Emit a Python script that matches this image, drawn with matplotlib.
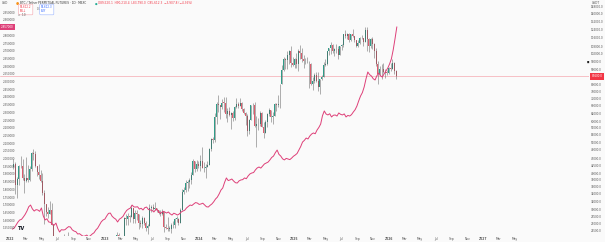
import matplotlib
matplotlib.use("Agg")
import matplotlib.pyplot as plt
import matplotlib.dates as mdates
import matplotlib.transforms as mtransforms
from matplotlib.ticker import NullLocator, NullFormatter
import numpy as np
import pandas as pd

# BTC / USDT perpetual, weekly candles in thousands, weeks starting 2022-01-10
btc_first_open = 41.9
btc_close = [
    43.1, 36.3, 38.2, 42.4, 42.2, 38.4, 37.7, 38.4, 37.8, 41.3, 46.8, 46.4, 42.2, 40.4, 39.4, 37.6, 34.3,
    31.3, 29.4, 29.0, 29.9, 26.6, 20.6, 21.0, 19.3, 20.8, 20.8, 22.6, 23.3, 23.2, 24.3, 21.5, 20.0, 19.8,
    21.8, 19.4, 18.8, 19.3, 19.4, 19.2, 19.5, 20.8, 21.3, 16.3, 16.7, 16.5, 17.1, 17.1, 16.8, 16.8, 16.6,
    17.1, 20.9, 22.7, 23.7, 23.3, 21.8, 24.6, 23.6, 22.0, 22.1, 28.0, 27.9, 28.5, 28.3, 30.3, 27.8, 29.2,
    28.9, 26.9, 26.8, 28.0, 27.1, 25.9, 26.3, 30.5, 30.6, 30.2, 30.3, 29.8, 29.3, 29.0, 29.4, 26.1, 26.0,
    25.8, 25.8, 26.5, 26.5, 27.9, 27.9, 26.9, 30.0, 34.5, 35.0, 37.1, 37.4, 37.8, 39.5, 43.8, 41.4, 43.0, 42.1,
    43.9, 41.7, 41.6, 42.0, 42.6, 48.3, 52.1, 51.7, 62.0, 68.9, 68.4, 67.2, 69.6, 69.4, 63.4, 64.9, 63.1,
    64.0, 61.5, 67.0, 69.0, 67.5, 69.6, 66.2, 64.2, 62.7, 55.8, 60.8, 68.2, 68.2, 58.1, 58.7, 59.0, 64.2,
    57.3, 54.8, 59.9, 63.6, 65.6, 62.1, 62.8, 69.0, 68.0, 68.7, 80.4, 89.9, 98.0, 97.2, 101.1, 104.5, 95.2,
    93.7, 98.3,
    94.5, 104.6, 102.6, 97.7, 96.5, 96.1, 96.3, 94.2, 80.7, 82.6, 86.1, 82.4, 78.4, 83.8, 85.2, 93.7, 94.3,
    104.0, 106.5, 109.0, 104.6, 105.7, 105.6, 100.9, 108.4, 109.2, 119.1, 117.3, 119.4, 114.2, 119.3, 117.5,
    113.5, 108.2, 111.1, 115.3, 115.3, 112.2, 123.5, 115.1, 108.6, 114.5, 110.5, 104.7, 94.0, 86.8, 90.4,
    90.4, 88.2, 88.1, 87.8, 91.5,
    90.5, 95.0, 89.5, 85.6,
]
btc_high = [
    44.5, 43.5, 38.9, 42.6, 45.8, 44.5, 39.8, 45.4, 42.6, 42.3, 47.1, 48.2, 47.4, 41.5, 42.9, 40.8, 40.0,
    35.0, 31.3, 30.6, 32.2, 31.5, 26.8, 21.8, 21.5, 22.5, 21.6, 24.3, 24.7, 23.6, 25.2, 24.4, 21.8, 20.5,
    22.5, 22.7, 19.7, 20.3, 20.5, 19.9, 19.7, 21.1, 21.5, 21.4, 17.1, 16.8, 17.4, 17.4, 18.4, 16.9, 16.9,
    17.3, 21.3, 23.2, 23.9, 24.2, 23.3, 25.2, 25.0, 23.9, 22.6, 28.4, 28.9, 29.2, 28.7, 31.0, 30.5, 30.0,
    29.8, 29.0, 27.6, 28.5, 28.4, 27.4, 26.8, 31.4, 31.0, 31.4, 31.8, 30.4, 30.0, 29.9, 30.2, 29.7, 26.8,
    28.2, 26.4, 27.0, 27.5, 28.0, 28.6, 28.0, 30.4, 35.2, 35.9, 38.0, 37.9, 38.4, 40.2, 44.7, 43.4, 44.4, 43.8,
    45.9, 49.0, 43.6, 42.8, 43.8, 48.6, 52.8, 52.9, 64.0, 70.0, 73.8, 68.2, 71.6, 72.6, 72.8, 66.8, 67.2,
    64.7, 65.0, 67.7, 71.9, 70.0, 71.9, 70.0, 66.9, 64.5, 63.8, 61.3, 68.4, 69.4, 70.0, 62.7, 61.8, 65.0,
    64.5, 59.8, 60.6, 64.1, 66.5, 65.6, 64.5, 69.4, 69.5, 73.6, 80.5, 93.4, 99.6, 98.8, 104.0, 105.3, 108.3,
    99.9, 98.9,
    102.7, 106.2, 109.6, 106.5, 101.5, 98.8, 99.5, 96.5, 95.0, 85.3, 87.5, 88.8, 88.5, 84.0, 86.5, 95.8, 97.9,
    104.3, 106.7, 111.9, 110.4, 106.8, 110.4, 108.9, 108.6, 110.6, 119.5, 123.2, 120.2, 119.8, 119.4, 124.5,
    117.6, 113.6, 113.4, 116.7, 117.9, 115.4, 125.7, 126.2, 115.9, 115.5, 116.4, 111.2, 107.0, 96.6, 93.1,
    94.1, 94.6, 90.4, 90.0, 91.7,
    94.8, 97.9, 95.5, 90.2,
]
btc_low = [
    41.3, 34.0, 32.9, 36.3, 41.7, 38.0, 34.3, 37.2, 37.2, 37.6, 40.6, 44.2, 41.9, 39.2, 38.2, 37.2, 33.7,
    26.7, 28.6, 28.0, 29.2, 26.5, 17.6, 19.8, 18.8, 19.0, 18.9, 20.7, 20.8, 22.4, 22.7, 20.8, 19.6, 19.5,
    18.6, 19.3, 18.2, 18.5, 19.0, 18.2, 18.9, 19.2, 20.1, 15.6, 16.3, 15.4, 16.0, 16.9, 16.5, 16.3, 16.3,
    16.6, 17.1, 20.4, 22.3, 22.6, 21.4, 21.5, 22.8, 21.9, 19.6, 21.9, 26.6, 26.5, 27.2, 28.3, 27.1, 26.9,
    27.7, 25.8, 26.1, 25.9, 26.6, 25.4, 24.8, 26.3, 29.5, 29.8, 30.0, 29.5, 28.9, 28.6, 28.7, 25.2, 25.8,
    25.4, 25.4, 24.9, 26.0, 26.0, 27.2, 26.5, 26.9, 29.9, 33.9, 34.5, 34.8, 35.6, 36.7, 39.5, 40.2, 40.5, 41.5,
    40.7, 41.5, 40.3, 38.5, 41.9, 42.5, 47.7, 50.6, 50.9, 59.0, 64.5, 61.0, 66.3, 64.5, 61.5, 59.7, 62.4,
    56.5, 60.2, 60.7, 66.5, 66.6, 67.6, 65.0, 63.4, 58.5, 53.5, 54.3, 60.7, 63.5, 57.2, 49.0, 56.1, 57.8,
    57.2, 52.6, 54.7, 57.6, 62.7, 59.8, 58.9, 62.4, 65.1, 67.4, 66.8, 80.2, 89.4, 90.8, 90.5, 94.2, 92.2,
    92.5, 91.5,
    91.2, 89.3, 98.2, 96.0, 91.2, 94.1, 94.9, 78.2, 80.0, 76.6, 81.2, 81.6, 76.2, 74.5, 83.0, 85.1, 92.8,
    93.4, 101.4, 102.1, 103.1, 100.4, 102.7, 98.2, 100.8, 105.1, 107.5, 115.7, 114.7, 112.0, 112.6, 116.9,
    111.7, 107.3, 107.3, 110.6, 114.4, 108.6, 111.6, 104.0, 103.5, 106.8, 106.3, 98.9, 93.0, 80.6, 86.1,
    83.8, 87.6, 84.4, 86.6, 86.9,
    89.3, 91.0, 87.3, 83.8,
]

# overlay line (left scale), one value per week from 2022-01-09
line_values = [
    1.545, 1.552, 1.571, 1.590, 1.604, 1.608, 1.623, 1.640, 1.662, 1.690,
    1.701, 1.676, 1.662, 1.671, 1.669, 1.660, 1.682, 1.631, 1.604, 1.612,
    1.591, 1.589, 1.578, 1.570, 1.584, 1.549, 1.526, 1.541, 1.539, 1.541,
    1.552, 1.561, 1.558, 1.540, 1.532, 1.528, 1.513, 1.515, 1.506, 1.498,
    1.500, 1.506, 1.494, 1.502, 1.513, 1.521, 1.539, 1.551, 1.571, 1.592,
    1.604, 1.610, 1.630, 1.647, 1.649, 1.628, 1.617, 1.609, 1.591, 1.609,
    1.617, 1.628, 1.649, 1.666, 1.675, 1.681, 1.701, 1.689, 1.688, 1.690,
    1.675, 1.680, 1.669, 1.684, 1.688, 1.672, 1.669, 1.667, 1.656, 1.671,
    1.669, 1.652, 1.649, 1.660, 1.656, 1.649, 1.656, 1.644, 1.636, 1.648,
    1.643, 1.636, 1.643, 1.655, 1.662, 1.667, 1.682, 1.692, 1.701, 1.698,
    1.708, 1.717, 1.714, 1.705, 1.708, 1.713, 1.701, 1.690, 1.688, 1.699,
    1.708, 1.722, 1.740, 1.752, 1.773, 1.798, 1.812, 1.848, 1.877, 1.860,
    1.864, 1.870, 1.857, 1.846, 1.844, 1.858, 1.864, 1.866, 1.877, 1.872,
    1.890, 1.903, 1.909, 1.912, 1.929, 1.942, 1.948, 1.941, 1.955, 1.968,
    1.974, 1.980, 1.994, 2.010, 2.019, 2.041, 2.058, 2.030, 2.019, 2.001,
    1.994, 2.004, 2.000, 1.996, 2.006, 2.018, 2.026, 2.036, 2.058, 2.081,
    2.110, 2.121, 2.136, 2.130, 2.149, 2.162, 2.169, 2.164, 2.188, 2.205,
    2.227, 2.281, 2.312, 2.292, 2.286, 2.294, 2.273, 2.284, 2.286, 2.279,
    2.299, 2.290, 2.286, 2.293, 2.273, 2.283, 2.279, 2.288, 2.305, 2.320,
    2.344, 2.378, 2.409, 2.431, 2.468, 2.520, 2.565, 2.548, 2.539, 2.521,
    2.513, 2.540, 2.558, 2.540, 2.532, 2.553, 2.571, 2.590, 2.617, 2.650,
    2.708, 2.780, 2.857,
]

price_ticks = [148000, 140000, 132000, 124000, 116000, 108000, 102000, 96000, 90000,
               80000, 76000, 72000, 68000, 64000, 60000, 57000, 54000, 51000, 48000,
               45000, 42500, 40000, 38000, 36000, 34000, 32000, 30000, 28500, 27000, 25500]
left_ticks = [1.55, 1.60, 1.65, 1.70, 1.75, 1.80, 1.85, 1.90, 1.95, 2.00, 2.05, 2.10, 2.15,
              2.20, 2.25, 2.30, 2.35, 2.40, 2.45, 2.50, 2.55, 2.60, 2.65, 2.70, 2.75, 2.80, 2.90, 2.95]
month_names = ["Mar", "May", "Jul", "Sep", "Nov"]
years = [2022, 2023, 2024, 2025, 2026, 2027]

W, H = 605, 242
PW, PH = 589, 236
bg = "#fafafa"
txt = "#555555"
up_c, dn_c = "#2f9c88", "#dc5d6e"
pink = "#de3f78"

fig = plt.figure(figsize=(W / 100, H / 100), dpi=100)
fig.patch.set_facecolor(bg)
ax = fig.add_axes([0, 1 - PH / H, PW / W, PH / H])
ax.set_facecolor(bg)
axl = ax.twinx()

# candles
weeks = pd.date_range("2022-01-10", periods=len(btc_close), freq="7D")
xs = mdates.date2num(weeks) + 3
c = np.array(btc_close) * 1000
o = np.array([btc_first_open] + btc_close[:-1]) * 1000
hi = np.maximum(np.array(btc_high) * 1000, np.maximum(o, c))
lo = np.minimum(np.array(btc_low) * 1000, np.minimum(o, c))
cols = [up_c if cc >= oo else dn_c for cc, oo in zip(c, o)]
ax.vlines(xs, lo, hi, colors="#5a5a5a", lw=0.4, alpha=0.85)
body_h = np.maximum(np.abs(c - o), c * 0.004)
ax.bar(xs, body_h, bottom=np.minimum(o, c), width=3.8, color=cols, lw=0)

ax.set_yscale("log")
ax.set_ylim(24380, 155800)
ax.axhline(c[-1], color="#f4a0a8", lw=0.45, zorder=0)

# overlay line
line_dates = pd.date_range("2022-01-09", periods=len(line_values), freq="7D")
axl.plot(line_dates, line_values, color=pink, lw=0.7)
axl.set_ylim(1.50, 1.50 + PH / 154)

ax.set_xlim(mdates.datestr2num("2021-11-22"), mdates.datestr2num("2028-02-13"))

for s in list(ax.spines.values()) + list(axl.spines.values()):
    s.set_visible(False)

# right price scale
ax.yaxis.tick_right()
ax.set_yticks(price_ticks)
ax.set_yticklabels([f"{v:.1f}" for v in price_ticks])
ax.yaxis.set_minor_locator(NullLocator())
ax.yaxis.set_minor_formatter(NullFormatter())
ax.tick_params(axis="y", length=0, pad=1.2, labelsize=2.0, labelcolor=txt)
axl.set_yticks([])

# time scale
xt, xl = [], []
for y in years:
    xt.append(pd.Timestamp(f"{y}-01-01"))
    xl.append(str(y))
    for i, m in enumerate(month_names):
        d = pd.Timestamp(f"{y}-{2 * i + 3:02d}-01")
        if d <= pd.Timestamp("2027-05-01"):
            xt.append(d)
            xl.append(m)
ax.set_xticks(mdates.date2num(xt))
ax.set_xticklabels(xl)
ax.tick_params(axis="x", length=0, pad=1.0, labelsize=2.2, labelcolor=txt)
for lab in ax.get_xticklabels():
    if lab.get_text().isdigit():
        lab.set_fontweight("bold")

# left scale labels drawn inside the pane
tl = mtransforms.blended_transform_factory(axl.transAxes, axl.transData)
for v in left_ticks:
    axl.text(0.004, v, f"{v:.6f}", transform=tl, fontsize=2.0, color=txt, va="center", ha="left")
axl.text(0.002, line_values[-1], f"{line_values[-1]:.6f}", transform=tl, fontsize=2.0,
         color="white", va="center", ha="left",
         bbox=dict(boxstyle="square,pad=0.35", fc=pink, ec="none"))

# current price tag
tr = mtransforms.blended_transform_factory(ax.transAxes, ax.transData)
ax.text(1.004, c[-1], f"{c[-1]:.1f}", transform=tr, fontsize=2.0, color="white",
        va="center", ha="left", clip_on=False,
        bbox=dict(boxstyle="square,pad=0.6", fc="#f23645", ec="none"))
ax.text(0.9995, 96000, "\u25a0", transform=tr, fontsize=1.8, color="#222222",
        va="center", ha="right", clip_on=False)


def px(x, y):
    return x / W, 1 - y / H


fig.text(*px(592, 3.5), "USDT", fontsize=2.2, color=txt, va="center")
fig.text(*px(2, 3.5), "USD", fontsize=2.2, color=txt, va="center")
fig.text(*px(16, 3.5), "\u25cf", fontsize=2.6, color="#f7931a", va="center")
fig.text(*px(20, 3.5), "BTC / Tether PERPETUAL FUTURES \u00b7 1D \u00b7 MEXC", fontsize=2.1,
         color="#333333", va="center")
fig.text(*px(94.5, 3.5), "\u25cf", fontsize=2.2, color="#22ab94", va="center")
fig.text(*px(98.5, 3.5), "O89,520.1  H90,210.4  L83,790.0  C85,612.3  \u22123,907.8 (\u22124.36%)",
         fontsize=2.1, color="#f23645", va="center")
fig.text(*px(20, 9.5), "85,612.2\nSELL", fontsize=1.9, color="#f23645", va="center",
         ha="left", linespacing=1.0,
         bbox=dict(boxstyle="round,pad=0.5,rounding_size=0.4", fc="white", ec="#f5a3ab", lw=0.4))
fig.text(*px(36.5, 9.5), "0.1", fontsize=1.9, color=txt, va="center", ha="left")
fig.text(*px(41, 9.5), "85,612.3\nBUY", fontsize=1.9, color="#2962ff", va="center",
         ha="left", linespacing=1.0,
         bbox=dict(boxstyle="round,pad=0.5,rounding_size=0.4", fc="white", ec="#9bb5ff", lw=0.4))
fig.text(*px(18, 15.5), "\u2227  10", fontsize=2.1, color=txt, va="center")
fig.text(*px(18, 229), "TV", fontsize=3.6, color="#131722", va="center", fontweight="bold")

fig.savefig("out.png", dpi=100, facecolor=bg)
